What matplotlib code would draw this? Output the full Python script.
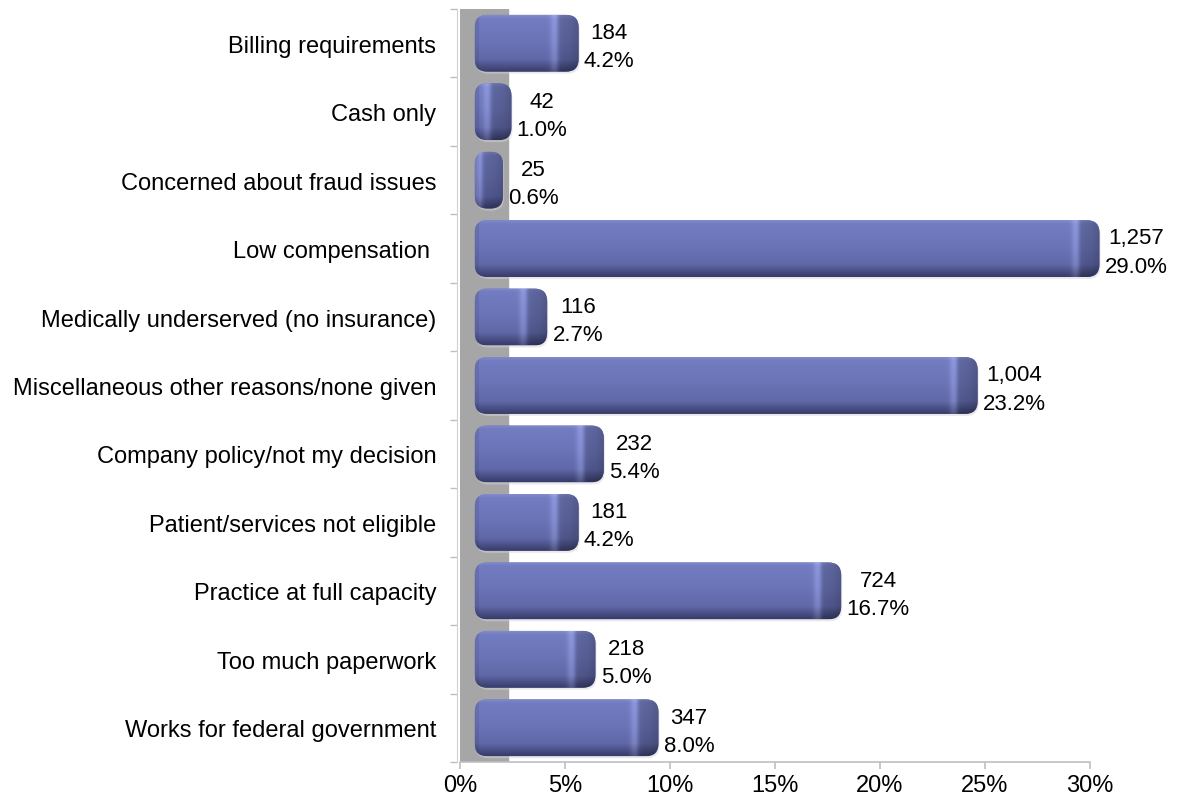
import numpy as np
import matplotlib
matplotlib.use('Agg')
import matplotlib.pyplot as plt
from matplotlib.patches import FancyBboxPatch

plt.rcParams['font.family'] = ['Liberation Sans', 'DejaVu Sans']

# data
categories = ['Billing requirements', 'Cash only', 'Concerned about fraud issues',
              'Low compensation ', 'Medically underserved (no insurance)',
              'Miscellaneous other reasons/none given', 'Company policy/not my decision',
              'Patient/services not eligible', 'Practice at full capacity',
              'Too much paperwork', 'Works for federal government']
counts = [184, 42, 25, 1257, 116, 1004, 232, 181, 724, 218, 347]
percents = [4.2, 1.0, 0.6, 29.0, 2.7, 23.2, 5.4, 4.2, 16.7, 5.0, 8.0]
xticks = [0, 5, 10, 15, 20, 25, 30]

# 3D look settings
depth_left = 0.7     # where the bars start (in %)
depth_extra = 0.75   # extra length from the 3D depth
wall_width = 2.3
bar_height = 0.83
fs = 17
fs_val = 16

fig = plt.figure(figsize=(11.83, 8.04), dpi=100)
ax = fig.add_axes([460/1183, 41/804, 651/1183, 753/804])

n = len(categories)
y = np.arange(n)

# the grey side wall
ax.axvspan(0, wall_width, color='#a6a6a6', zorder=0)

px_per_x = 21.0
px_per_y = 68.5
aspect = px_per_x / px_per_y

def bar_image(w_px, h_px):
    t = np.linspace(0, 1, h_px)
    stops = [0.0, 0.06, 0.45, 0.78, 1.0]
    cols = np.array([[0x80, 0x8a, 0xcc],
                     [0x72, 0x7c, 0xc0],
                     [0x6b, 0x74, 0xb7],
                     [0x60, 0x68, 0xa8],
                     [0x38, 0x3d, 0x6a]]) / 255.0
    vert = np.stack([np.interp(t, stops, cols[:, c]) for c in range(3)], axis=1)
    img = np.repeat(vert[:, None, :], w_px, axis=1)
    d = (w_px - 1) - np.arange(w_px)  # distance from right end in px
    fac = np.interp(d, [0, 8, 18, 22], [0.72, 0.8, 0.84, 1.0])
    hl = np.exp(-((d - 24.0) / 4.0) ** 2) * 0.1
    img = img * fac[None, :, None] + hl[None, :, None]
    lft = np.arange(w_px) < 4
    img[:, lft, :] *= 0.92
    return np.clip(img, 0, 1)

for yi, p in zip(y, percents):
    x0 = depth_left
    w = p + depth_extra
    # soft shadow
    sh = FancyBboxPatch((x0 + 0.05, yi - bar_height/2 + 0.03), w, bar_height,
                        boxstyle='round,pad=0,rounding_size=0.6',
                        mutation_aspect=aspect, facecolor='#d4d4d4',
                        edgecolor='none', alpha=0.5, zorder=1)
    ax.add_patch(sh)
    patch = FancyBboxPatch((x0, yi - bar_height/2), w, bar_height,
                           boxstyle='round,pad=0,rounding_size=0.6',
                           mutation_aspect=aspect, facecolor='#6a73b6',
                           edgecolor='none', zorder=2)
    ax.add_patch(patch)
    w_px = max(int(w * px_per_x), 4)
    h_px = int(bar_height * px_per_y)
    im = ax.imshow(bar_image(w_px, h_px), extent=(x0, x0 + w, yi + bar_height/2, yi - bar_height/2),
                   aspect='auto', origin='upper', interpolation='bilinear', zorder=3)
    im.set_clip_path(patch)

for yi, c, p in zip(y, counts, percents):
    ax.text(p + depth_left + depth_extra + 0.25, yi + 0.05, '{:,}\n{:.1f}%'.format(c, p),
            ha='left', va='center', multialignment='center', fontsize=fs_val,
            linespacing=1.45, zorder=4)

ax.set_xlim(0, 31)
ax.set_ylim(n - 0.5, -0.5)

ax.set_yticks(y)
ax.set_yticklabels(categories)
ax.set_yticks(np.arange(n + 1) - 0.5, minor=True)
ax.tick_params(axis='y', which='major', length=0, pad=15, labelsize=fs)
ax.tick_params(axis='y', which='minor', length=5, color='#bfbfbf', width=1)

ax.set_xticks(xticks)
ax.set_xticklabels(['{}%'.format(t) for t in xticks])
ax.tick_params(axis='x', length=5, color='#bfbfbf', width=1.2, pad=4, labelsize=fs)

for s in ['top', 'right']:
    ax.spines[s].set_visible(False)
ax.spines['bottom'].set_bounds(0, 30)
ax.spines['bottom'].set_color('#bfbfbf')
ax.spines['bottom'].set_linewidth(1.2)
ax.spines['left'].set_color('#d0d0d0')
ax.spines['left'].set_position(('outward', 2))

fig.savefig('out.png', dpi=100)
